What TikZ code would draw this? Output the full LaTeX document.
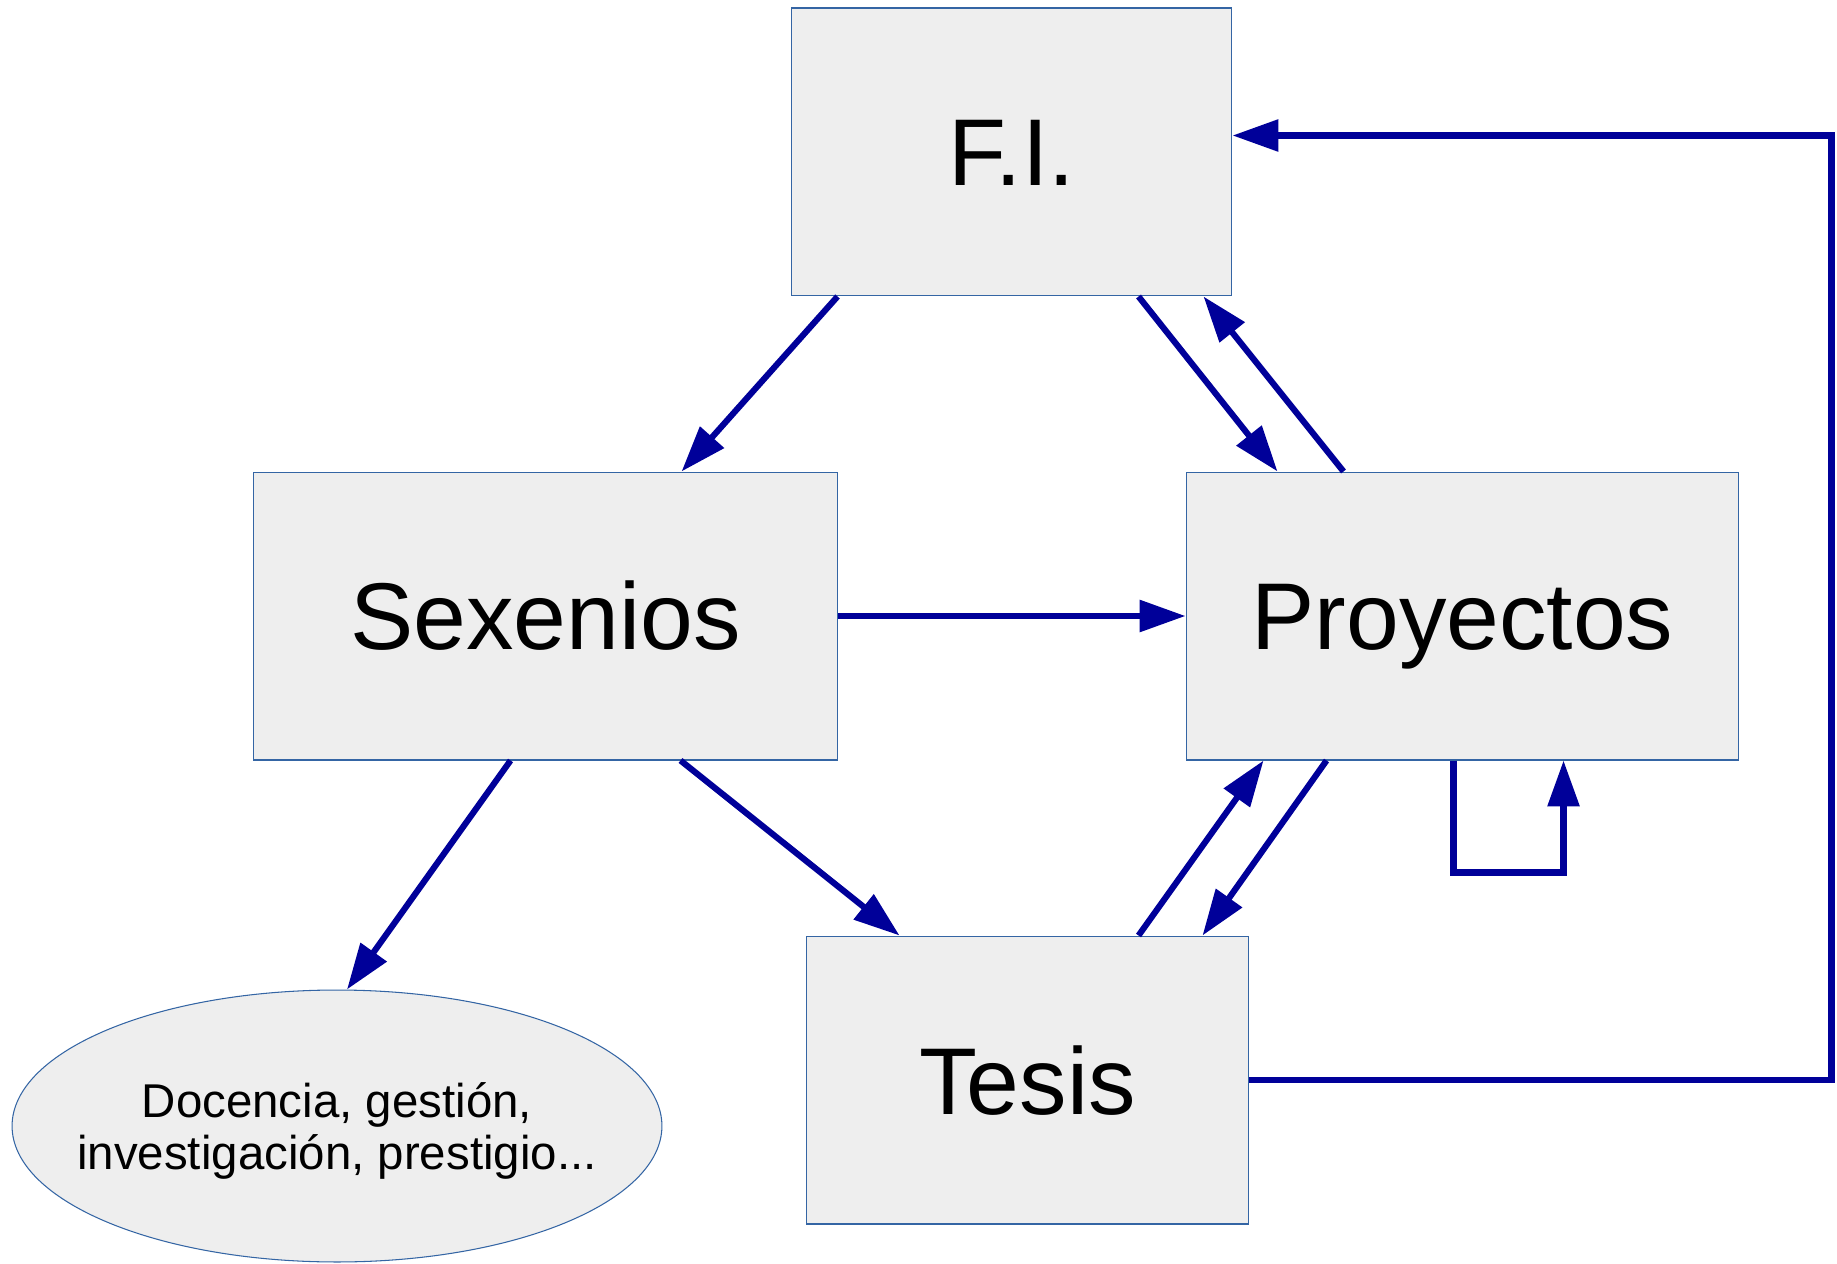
\documentclass[tikz,border=0pt]{standalone}
\usepackage{fontspec}
\setmainfont{Liberation Sans}
\usetikzlibrary{arrows.meta, shapes.geometric, calc}
\definecolor{arrowblue}{RGB}{0,0,153}
\definecolor{boxline}{RGB}{52,101,164}
\definecolor{boxfill}{RGB}{238,238,238}

\begin{document}
\begin{tikzpicture}[x=0.02cm, y=-0.02cm,
    box/.style={rectangle, draw=boxline, fill=boxfill, line width=0.6pt, inner sep=0pt,
                text height=1.36cm, text depth=0cm, font=\fontsize{54}{60}\selectfont},
    arr/.style={draw=arrowblue, line width=3.5pt, -{Triangle[length=0.92cm, width=0.62cm]}}]
    \useasboundingbox (0,0) rectangle (1837,1264);

    % Boxes
    \node[box, minimum width=8.82cm, minimum height=5.76cm] (fi) at (1011.5,152) {F.I.};
    \node[box, minimum width=11.7cm, minimum height=5.76cm] (sex) at (545.5,616) {Sexenios};
    \node[box, minimum width=11.06cm, minimum height=5.76cm] (proy) at (1462.5,616) {Proyectos};
    \node[box, minimum width=8.86cm, minimum height=5.76cm] (tesis) at (1027.5,1080) {Tesis};

    % Ellipse
    \node[ellipse, draw=boxline, fill=boxfill, line width=0.6pt, inner sep=0pt, minimum width=13cm, minimum height=5.44cm,
          align=center, text depth=0pt, font=\fontsize{27}{30}\selectfont] (doc) at (337,1126)
          {\makebox[0pt]{Docencia, gestión,}\\\makebox[0pt]{investigación, prestigio...}};

    % Connections
    \draw[arr] ($(fi.south west)+(47,0)$) -- ($(sex.north west)+(429,0)$);
    \draw[arr] ($(fi.south west)+(348,0)$) -- ($(proy.north west)+(92,0)$);
    \draw[arr] ($(proy.north west)+(158,0)$) -- ($(fi.south west)+(413,0)$);
    \draw[arr] (sex.east) -- (proy.west);
    \draw[arr] ($(sex.south west)+(258,0)$) -- ($(doc.north)+(10,0)$);
    \draw[arr] ($(sex.south west)+(428,0)$) -- ($(tesis.north west)+(94,0)$);
    \draw[arr] ($(tesis.north west)+(333,0)$) -- ($(proy.south west)+(78,0)$);
    \draw[arr] ($(proy.south west)+(141,0)$) -- ($(tesis.north west)+(397,0)$);

    % Tesis back to F.I.
    \coordinate (turn) at ($(tesis.east)+(582,0)$);
    \draw[arr] (tesis.east) -- (turn) |- ($(fi.north east)+(0,128)$);

    % Loop on Proyectos
    \coordinate (loopa) at ($(proy.south west)+(268,112)$);
    \coordinate (loopb) at ($(proy.south west)+(378,112)$);
    \draw[arr] ($(proy.south west)+(268,0)$) -- (loopa) -- (loopb) -- ($(proy.south west)+(378,0)$);
\end{tikzpicture}
\end{document}
